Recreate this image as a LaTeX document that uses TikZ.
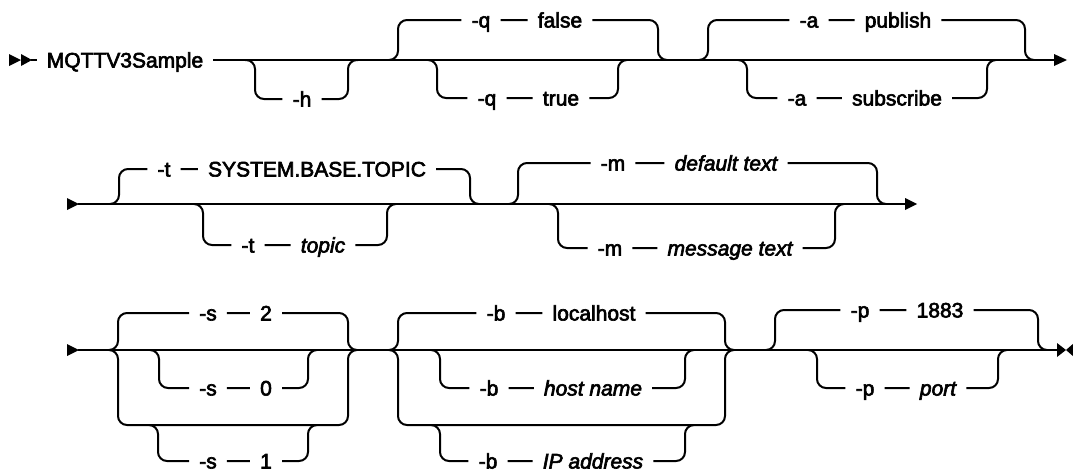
\documentclass[tikz,border=0pt]{standalone}
\usepackage{fontspec}
\setmainfont{Liberation Sans}[FakeBold=3]
\begin{document}
\begin{tikzpicture}[x=1pt,y=-1pt,
  rr/.style={line width=2pt, rounded corners=9pt},
  ln/.style={line width=2pt},
  tok/.style={inner xsep=10pt, inner ysep=0pt, text height=15pt, text depth=0pt,
    font=\fontsize{21}{25}\selectfont},
  var/.style={tok, font=\fontsize{21}{25}\selectfont\itshape},
  tipfill/.style={fill=black}]
\useasboundingbox (0,0) rectangle (1073,472);

% ---------- row 1 ----------
\node[tok] (cmd) at (125,60) {MQTTV3Sample};
\node[tok] (h) at (302,99) {-h};
\node[tok] (q1) at (481,20) {-q};
\node[tok] (qf) at (560,20) {false};
\node[tok] (q2) at (487,98) {-q};
\node[tok] (qt) at (561,98) {true};
\node[tok] (a1) at (809,20) {-a};
\node[tok] (ap) at (898,20) {publish};
\node[tok] (a2) at (797,98) {-a};
\node[tok] (as) at (897,98) {subscribe};

\fill[tipfill] (9,54) -- (21,60) -- (9,66) -- cycle;
\fill[tipfill] (21,54) -- (32,60) -- (21,66) -- cycle;
\draw[ln] (31,60) -- (cmd.west);
\draw[ln] (cmd.east) -- (1055,60);
\fill[tipfill] (1054,54) -- (1067,60) -- (1054,66) -- cycle;

\draw[rr] (245,60) -- (255,60) -- (255,99) -- (h.west)
          (h.east) -- (348,99) -- (348,60) -- (358,60);
\draw[rr] (389,60) -- (398,60) -- (398,20) -- (q1.west)
          (q1.east) -- (qf.west)
          (qf.east) -- (658,20) -- (658,60) -- (667,60);
\draw[rr] (428,60) -- (437,60) -- (437,98) -- (q2.west)
          (q2.east) -- (qt.west)
          (qt.east) -- (618,98) -- (618,60) -- (627,60);
\draw[rr] (699,60) -- (708,60) -- (708,20) -- (a1.west)
          (a1.east) -- (ap.west)
          (ap.east) -- (1025,20) -- (1025,60) -- (1034,60);
\draw[rr] (738,60) -- (747,60) -- (747,98) -- (a2.west)
          (a2.east) -- (as.west)
          (as.east) -- (987,98) -- (987,60) -- (996,60);

% ---------- row 2 ----------
\node[tok] (t1) at (164,169) {-t};
\node[tok] (ts) at (317,169) {SYSTEM.BASE.TOPIC};
\node[tok] (t2) at (248,245) {-t};
\node[var] (tt) at (323,245) {topic};
\node[tok] (m1) at (613,163) {-m};
\node[var] (md) at (726,163) {default text};
\node[tok] (m2) at (610,248) {-m};
\node[var] (mm) at (730,248) {message text};

\fill[tipfill] (67,198) -- (79,204) -- (67,210) -- cycle;
\draw[ln] (78,204) -- (906,204);
\fill[tipfill] (905,198) -- (917,204) -- (905,210) -- cycle;

\draw[rr] (110,204) -- (119,204) -- (119,169) -- (t1.west)
          (t1.east) -- (ts.west)
          (ts.east) -- (470,169) -- (470,204) -- (479,204);
\draw[rr] (194,204) -- (203,204) -- (203,245) -- (t2.west)
          (t2.east) -- (tt.west)
          (tt.east) -- (387,245) -- (387,204) -- (396,204);
\draw[rr] (509,204) -- (518,204) -- (518,163) -- (m1.west)
          (m1.east) -- (md.west)
          (md.east) -- (877,163) -- (877,204) -- (886,204);
\draw[rr] (549,204) -- (558,204) -- (558,248) -- (m2.west)
          (m2.east) -- (mm.west)
          (mm.east) -- (835,248) -- (835,204) -- (844,204);

% ---------- row 3 ----------
\node[tok] (s1) at (208,313) {-s};
\node[tok] (sv2) at (266,313) {2};
\node[tok] (s2) at (208,388) {-s};
\node[tok] (sv0) at (266,388) {0};
\node[tok] (s3) at (208,461) {-s};
\node[tok] (sv1) at (266,461) {1};
\node[tok] (b1) at (496,313) {-b};
\node[tok] (bl) at (594,313) {localhost};
\node[tok] (b2) at (489,388) {-b};
\node[var] (bh) at (593,388) {host name};
\node[tok] (b3) at (488,461) {-b};
\node[var] (bi) at (593,461) {IP address};
\node[tok] (p1) at (860,310) {-p};
\node[tok] (pd) at (940,310) {1883};
\node[tok] (p2) at (865,388) {-p};
\node[var] (pp) at (938,388) {port};

\fill[tipfill] (67,344) -- (79,350) -- (67,356) -- cycle;
\draw[ln] (78,350) -- (1058,350);
\fill[tipfill] (1057,343) -- (1066,350) -- (1057,357) -- cycle;
\fill[tipfill] (1074,343) -- (1066,350) -- (1074,357) -- cycle;

% -s group
\draw[rr] (109,350) -- (118,350) -- (118,313) -- (s1.west)
          (s1.east) -- (sv2.west)
          (sv2.east) -- (348,313) -- (348,350) -- (357,350);
\draw[rr] (109,350) -- (118,350) -- (118,425) -- (348,425) -- (348,350) -- (357,350);
\draw[rr] (150,350) -- (159,350) -- (159,388) -- (s2.west)
          (s2.east) -- (sv0.west)
          (sv0.east) -- (308,388) -- (308,350) -- (317,350);
\draw[rr] (149,425) -- (158,425) -- (158,461) -- (s3.west)
          (s3.east) -- (sv1.west)
          (sv1.east) -- (308,461) -- (308,425) -- (317,425);

% -b group
\draw[rr] (389,350) -- (398,350) -- (398,313) -- (b1.west)
          (b1.east) -- (bl.west)
          (bl.east) -- (725,313) -- (725,350) -- (734,350);
\draw[rr] (389,350) -- (398,350) -- (398,425) -- (725,425) -- (725,350) -- (734,350);
\draw[rr] (431,350) -- (440,350) -- (440,388) -- (b2.west)
          (b2.east) -- (bh.west)
          (bh.east) -- (685,388) -- (685,350) -- (694,350);
\draw[rr] (431,425) -- (440,425) -- (440,461) -- (b3.west)
          (b3.east) -- (bi.west)
          (bi.east) -- (685,461) -- (685,425) -- (694,425);

% -p group
\draw[rr] (766,350) -- (775,350) -- (775,310) -- (p1.west)
          (p1.east) -- (pd.west)
          (pd.east) -- (1038,310) -- (1038,350) -- (1047,350);
\draw[rr] (808,350) -- (817,350) -- (817,388) -- (p2.west)
          (p2.east) -- (pp.west)
          (pp.east) -- (998,388) -- (998,350) -- (1007,350);
\end{tikzpicture}
\end{document}
